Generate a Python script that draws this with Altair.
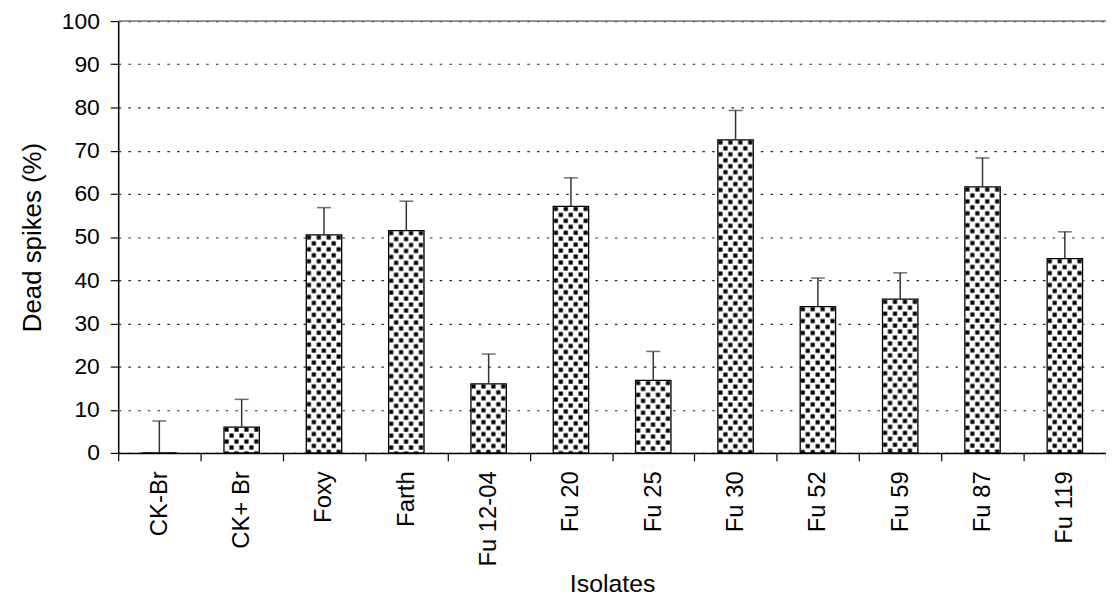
import altair as alt
import pandas as pd
from urllib.parse import quote

isolates = ["CK-Br", "CK+ Br", "Foxy", "Farth", "Fu 12-04", "Fu 20", "Fu 25",
            "Fu 30", "Fu 52", "Fu 59", "Fu 87", "Fu 119"]
dead_spikes = [0.0, 6.0, 50.5, 51.5, 16.0, 57.1, 16.8, 72.5, 33.9, 35.6, 61.6, 45.0]
upper = [7.4, 12.4, 56.8, 58.3, 22.9, 63.7, 23.5, 79.3, 40.5, 41.7, 68.3, 51.2]

df = pd.DataFrame({"isolate": isolates, "value": dead_spikes, "upper": upper})

FONT = "Liberation Sans"

# dotted texture tile (style only)
tex_svg = (
    "<svg xmlns='http://www.w3.org/2000/svg' width='100%' height='100%'>"
    "<defs><pattern id='p' width='10' height='12' patternUnits='userSpaceOnUse'>"
    "<rect width='10' height='12' fill='white'/>"
    "<rect x='0.5' y='0.5' width='4.2' height='4.2' fill='black'/>"
    "<rect x='5.5' y='6.5' width='4.2' height='4.2' fill='black'/>"
    "</pattern></defs>"
    "<rect width='100%' height='100%' fill='url(#p)'/></svg>"
)
tex_url = "data:image/svg+xml;charset=utf-8," + quote(tex_svg)

x_enc = alt.X(
    "isolate:N", sort=isolates, title="Isolates",
    scale=alt.Scale(paddingInner=0, paddingOuter=0),
    axis=alt.Axis(labelAngle=-90, tickBand="extent", tickSize=8, tickColor="black",
                  domainColor="black", domainWidth=1.5, tickWidth=1.2,
                  labelFontSize=24, labelFont=FONT, labelColor="black", labelPadding=10,
                  titleFontSize=25, titleFont=FONT, titleFontWeight="normal",
                  titleColor="black", titlePadding=6),
)
y_scale = alt.Scale(domain=[0, 100], nice=False)
y_axis = alt.Axis(values=list(range(0, 101, 10)), tickSize=8, tickColor="black",
                  domainColor="black", domainWidth=1.5, tickWidth=1.2,
                  labelFontSize=23, labelFont=FONT, labelColor="black", labelPadding=11,
                  grid=True, gridColor="#222", gridDash=[2.5, 7.3], gridWidth=1.2,
                  title="Dead spikes (%)", titleFontSize=26, titleFont=FONT,
                  titleFontWeight="normal", titleColor="black", titlePadding=16)

base = alt.Chart(df)

texture = base.mark_image(width=alt.RelativeBandSize(0.43), aspect=False).encode(
    x=x_enc,
    y=alt.Y("value:Q", scale=y_scale, axis=y_axis),
    y2=alt.datum(0),
    url=alt.value(tex_url),
)

outline = base.mark_bar(width=alt.RelativeBandSize(0.43), fillOpacity=0,
                        stroke="black", strokeWidth=1.3).encode(
    x=alt.X("isolate:N", sort=isolates),
    y=alt.Y("value:Q", scale=y_scale),
    y2=alt.datum(0),
)

err = base.mark_rule(color="#333", strokeWidth=1.5).encode(
    x=alt.X("isolate:N", sort=isolates),
    y=alt.Y("value:Q", scale=y_scale),
    y2="upper:Q",
)
cap = base.mark_tick(color="#333", thickness=1.5, size=14, orient="horizontal").encode(
    x=alt.X("isolate:N", sort=isolates),
    y=alt.Y("upper:Q", scale=y_scale),
)
top_line = alt.Chart(pd.DataFrame({"v": [100]})).mark_rule(color="#777", strokeWidth=1.6).encode(
    y=alt.Y("v:Q", scale=y_scale),
)

chart = alt.layer(texture, outline, err, cap, top_line).properties(
    width=995, height=435,
    autosize=alt.AutoSizeParams(type="none"),
    padding={"left": 111, "top": 11, "right": 0, "bottom": 151},
).configure_view(stroke=None).configure(background="white")

chart.save("out.html", embed_options={"renderer": "svg", "actions": False})
